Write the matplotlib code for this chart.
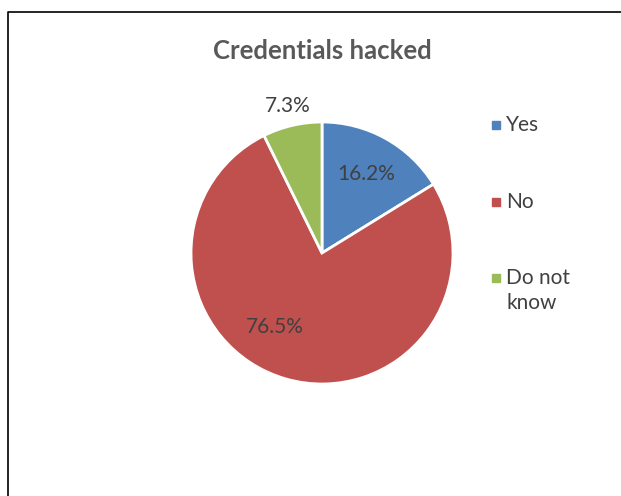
import numpy as np
import matplotlib.pyplot as plt
from matplotlib.lines import Line2D

# Survey answers
categories = ['Yes', 'No', 'Do not\nknow']
shares = [16.2, 76.5, 7.3]
colors = ['#4F81BD', '#C0504D', '#9BBB59']

plt.rcParams['font.family'] = ['Lato', 'DejaVu Sans']

W, H = 621, 496
fig = plt.figure(figsize=(W / 100, H / 100), dpi=100)

# pie centre (322, 253) px, radius 131 px
cx, cy, r = 322, 253, 131
ax = fig.add_axes([(cx - r) / W, 1 - (cy + r) / H, 2 * r / W, 2 * r / H])
wedges, texts, autotexts = ax.pie(
    shares, colors=colors, startangle=90, counterclock=False,
    autopct='%1.1f%%', pctdistance=0.69,
    wedgeprops=dict(edgecolor='white', linewidth=2),
    textprops=dict(color='#404040', fontsize=15))
ax.set_xlim(-1, 1)
ax.set_ylim(-1, 1)
ax.set_aspect('equal')
ax.axis('off')

# shift labels like Excel's best fit
ang = np.deg2rad(-122.5)
autotexts[1].set_position((0.67 * np.cos(ang), 0.67 * np.sin(ang)))
ang = np.deg2rad(90 + shares[2] * 3.6 / 2)
autotexts[2].set_position((1.15 * np.cos(ang), 1.15 * np.sin(ang)))

fig.text(cx / W, 1 - 51 / H, 'Credentials hacked', ha='center', va='center',
         fontsize=18.5, fontweight='bold', color='#595959')

# legend
for i, (lab, col) in enumerate(zip(categories, colors)):
    yc = 125 + i * 76.5
    fig.add_artist(Line2D([496 / W], [1 - yc / H], marker='s', markersize=6,
                          color=col, linestyle='none'))
    fig.text(506 / W, 1 - (yc - 10) / H, lab, ha='left', va='top',
             fontsize=15, color='#404040', linespacing=1.3)

# chart border (left and top only visible)
fig.add_artist(Line2D([8 / W, 8 / W, 1.0], [0.0, 1 - 12 / H, 1 - 12 / H],
                      color='black', linewidth=1.2))

fig.savefig('out.png', dpi=100)
